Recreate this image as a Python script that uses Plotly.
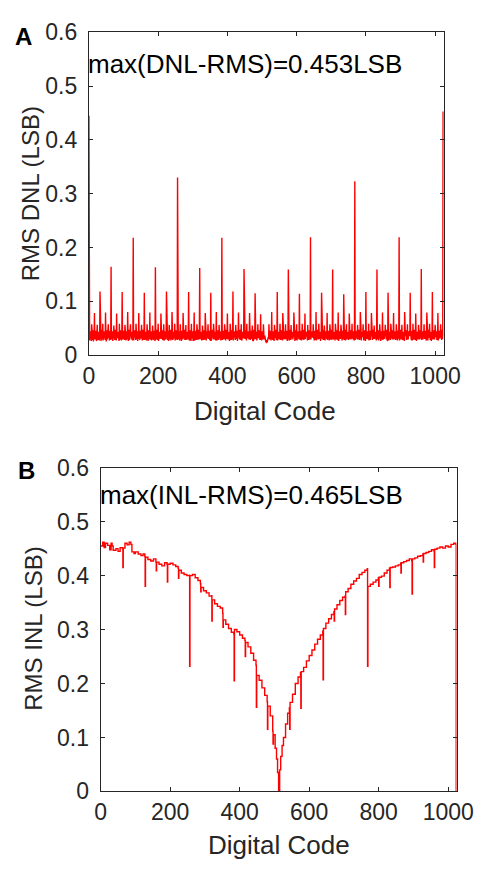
import plotly.graph_objects as go

# ---------------- Panel A: RMS DNL (values in 1/1000 LSB), codes 0..1023, rows of 8 codes
dnl_milli = [
445,31,27,38,44,29,35,26, 57,33,40,28,46,25,37,31, 78,29,36,41,45,30,26,39, 56,35,28,33,43,38,27,32,
118,30,39,26,47,34,29,37, 58,27,33,40,44,31,36,28, 79,38,25,34,46,29,41,30, 57,32,37,27,45,36,28,35,
164,29,34,39,44,26,33,40, 55,36,30,28,47,38,31,27, 77,31,40,35,43,29,37,26, 58,28,33,38,46,32,27,36,
117,37,29,31,45,40,34,28, 56,30,38,27,44,33,29,39, 80,34,26,36,47,28,38,31, 57,39,31,29,43,35,27,34,
218,27,36,40,46,30,33,28, 58,33,29,37,44,26,39,32, 78,30,38,28,45,36,31,35, 56,36,27,34,47,29,40,30,
116,28,35,39,43,32,27,37, 57,40,31,26,46,38,33,29, 79,29,37,33,44,27,36,39, 55,34,28,38,45,31,30,26,
163,37,32,29,47,35,28,40, 58,26,39,34,43,30,37,31, 77,33,30,41,46,28,34,27, 57,38,27,31,44,36,29,35,
118,31,36,28,45,39,26,33, 56,29,33,37,47,27,38,30, 80,35,28,30,43,34,31,39, 58,27,40,36,46,29,35,28,
330,34,29,38,44,31,27,36, 57,30,37,26,45,40,33,29, 78,39,31,34,47,28,36,32, 56,28,35,40,43,33,29,37,
117,36,27,29,46,38,31,26, 58,31,38,33,44,26,39,34, 79,27,30,37,45,35,28,31, 57,37,34,28,47,30,36,40,
162,29,39,31,43,37,27,33, 55,35,28,36,46,29,40,30, 78,32,37,27,44,34,31,38, 57,38,30,39,45,28,35,26,
116,26,33,35,47,31,38,29, 58,34,40,29,43,36,27,37, 80,30,27,38,46,33,32,28, 56,39,35,31,44,27,37,34,
218,28,31,36,45,40,29,33, 57,36,38,27,47,30,34,39, 77,31,29,40,43,35,26,30, 58,37,33,28,46,29,39,36,
118,27,36,34,44,38,31,28, 56,40,30,37,45,26,35,33, 79,33,39,29,47,32,28,38, 57,29,27,35,43,37,40,31,
160,35,34,30,46,28,33,27, 58,31,37,39,44,36,29,34, 78,38,28,33,45,30,37,40, 55,27,35,26,47,39,31,29,
115,36,30,38,43,27,34,32, 57,32,39,31,46,35,28,37, 76,28,31,27,44,30,33,29, 57,34,29,32,36,27,25,24,
28,22,26,24,31,27,33,30, 57,36,29,38,45,31,27,35, 80,30,37,28,44,39,33,26, 56,39,32,35,47,28,36,31,
117,27,35,40,43,33,29,38, 58,34,28,31,46,37,40,27, 78,37,39,29,44,30,32,36, 57,29,33,37,45,26,35,39,
159,35,27,30,47,38,31,28, 56,31,40,36,43,29,37,33, 79,38,30,26,46,35,28,40, 57,27,34,39,44,31,36,29,
114,33,37,28,45,40,27,35, 58,40,29,32,47,28,33,37, 77,30,36,38,43,34,39,27, 56,36,28,31,46,29,30,34,
219,29,39,35,44,37,32,40, 57,34,31,27,45,30,38,28, 80,27,37,40,47,33,29,36, 58,39,30,34,43,26,35,31,
116,31,35,29,46,39,28,37, 55,37,27,38,44,32,40,30, 78,28,33,31,45,36,27,34, 57,35,40,28,47,29,37,39,
159,30,29,37,43,35,31,27, 58,38,34,30,46,28,39,33, 79,26,31,39,44,37,30,36, 56,33,38,27,45,31,34,29,
113,39,28,35,47,27,36,40, 57,29,36,32,43,38,28,31, 77,36,30,40,46,29,33,35, 58,31,39,29,44,34,27,37,
323,28,33,36,45,30,39,29, 56,37,29,31,47,36,28,34, 80,30,40,27,43,33,37,38, 57,35,27,38,46,29,31,26,
117,32,36,30,44,40,34,29, 58,27,31,39,45,28,37,35, 78,39,34,28,47,31,30,36, 55,30,37,33,43,35,27,40,
159,36,29,40,46,27,33,31, 57,33,38,26,44,37,29,34, 79,28,31,35,45,30,39,37, 56,37,35,29,47,33,26,30,
116,31,27,38,43,36,40,28, 58,40,33,31,46,29,35,39, 78,29,37,34,44,38,28,32, 57,35,30,27,45,31,36,33,
219,27,39,36,47,34,29,38, 56,34,28,30,43,39,37,26, 80,38,35,39,46,28,31,33, 57,30,29,33,44,36,40,35,
116,36,37,28,45,27,32,30, 58,29,31,40,47,35,28,37, 77,39,26,35,43,30,38,29, 56,32,38,29,46,37,33,31,
160,28,34,37,44,29,39,36, 57,37,30,33,45,40,27,30, 79,31,39,27,47,32,35,38, 58,35,28,38,43,26,37,29,
117,30,36,31,46,39,29,34, 56,38,33,40,44,28,36,30, 78,27,29,34,45,37,31,39, 57,34,37,28,47,30,36,453,
]
dnl_codes = list(range(len(dnl_milli)))
dnl_vals = [v / 1000 for v in dnl_milli]

# ---------------- Panel B: RMS INL (read points, 1/1000 LSB)
inl_codes = [
0, 6, 10, 14, 20, 26, 30, 33, 36, 44, 50, 56, 63, 64, 65, 70, 76, 82, 87, 90, 96, 100, 108, 116, 122,
127, 128, 129, 136, 144, 152, 159, 160, 161, 168, 176, 184, 191, 192, 193, 200, 208, 216, 223, 224, 225,
232, 240, 248, 255, 256, 257, 264, 272, 280, 287, 288, 289, 296, 304, 312, 319, 320, 321, 328, 336, 344,
351, 352, 353, 360, 368, 376, 383, 384, 385, 392, 400, 408, 415, 416, 417, 424, 432, 440, 447, 448, 449,
456, 464, 472, 479, 480, 481, 488, 495, 496, 497, 502, 506, 509, 512,
515, 518, 522, 526, 532, 538, 543, 544, 545, 552, 560, 568, 575, 576, 577, 584, 592, 600, 608, 616, 624,
632, 639, 640, 641, 648, 656, 664, 671, 672, 673, 680, 688, 696, 703, 704, 705, 712, 720, 728, 736, 744,
752, 760, 767, 768, 769, 776, 784, 792, 799, 800, 801, 808, 816, 824, 831, 832, 833, 840, 848, 856, 863,
864, 865, 872, 880, 888, 895, 896, 897, 904, 912, 920, 927, 928, 929, 936, 944, 952, 959, 960, 961, 968,
976, 984, 992, 1000, 1008, 1016, 1022, 1023,
]
inl_milli = [
455, 462, 452, 460, 456, 448, 460, 455, 447, 450, 445, 452, 450, 415, 451, 460, 457, 462, 458, 444, 441, 444, 440, 437, 440,
436, 380, 434, 430, 427, 431, 425, 409, 425, 421, 418, 424, 421, 388, 421, 423, 420, 417, 414, 395, 410,
405, 402, 400, 401, 232, 400, 402, 396, 391, 385, 370, 378, 372, 368, 362, 363, 316, 355, 348, 343, 340,
330, 304, 318, 310, 302, 295, 292, 205, 300, 296, 290, 284, 280, 250, 276, 268, 256, 243, 234, 156, 215,
206, 192, 178, 166, 115, 158, 140, 112, 88, 105, 80, 60, 35, 0,
40, 65, 85, 100, 125, 145, 155, 115, 165, 180, 200, 212, 220, 154, 222, 230, 242, 252, 262, 273, 282,
290, 297, 207, 302, 312, 320, 328, 333, 316, 338, 346, 354, 360, 362, 328, 370, 376, 384, 390, 395, 402,
406, 410, 413, 232, 380, 384, 388, 392, 396, 380, 397, 399, 405, 410, 414, 378, 415, 416, 418, 420, 423,
405, 424, 426, 428, 431, 428, 366, 431, 433, 436, 437, 440, 425, 441, 443, 445, 448, 446, 415, 449, 451,
453, 451, 455, 453, 458, 460, 458, 0,
]
inl_vals = [v / 1000 for v in inl_milli]

x_ticks = [0, 200, 400, 600, 800, 1000]
y_ticks = [0, 0.1, 0.2, 0.3, 0.4, 0.5, 0.6]
y_ticktext = ["0", "0.1", "0.2", "0.3", "0.4", "0.5", "0.6"]

W, H = 491, 873
FONT = "Liberation Sans, Arial, sans-serif"
AX = "#262626"

fig = go.Figure()
fig.add_trace(go.Scatter(x=dnl_codes, y=dnl_vals, mode="lines",
                         line=dict(color="#ff0000", width=1.4), xaxis="x", yaxis="y",
                         showlegend=False, hoverinfo="skip"))
fig.add_trace(go.Scatter(x=inl_codes, y=inl_vals, mode="lines", line_shape="hv",
                         line=dict(color="#ff0000", width=1.4), xaxis="x2", yaxis="y2",
                         showlegend=False, hoverinfo="skip"))

def px_x(p):
    return p / W

def px_y(p):
    return (H - p) / H

axis_common = dict(
    showgrid=False, zeroline=False, showline=True, linecolor=AX, linewidth=1,
    mirror="ticks", ticks="inside", ticklen=4, tickcolor=AX, tickwidth=1,
    tickfont=dict(family=FONT, size=23, color=AX),
)

fig.update_layout(
    width=W, height=H, margin=dict(l=0, r=0, t=0, b=0),
    paper_bgcolor="white", plot_bgcolor="white",
    xaxis=dict(domain=[px_x(87), px_x(459.3)], range=[0, 1025], tickvals=x_ticks,
               anchor="y", ticklabelstandoff=0, **axis_common),
    yaxis=dict(domain=[px_y(352.5), px_y(20)], range=[0, 0.6], tickvals=y_ticks,
               ticktext=y_ticktext, anchor="x", ticklabelstandoff=6, **axis_common),
    xaxis2=dict(domain=[px_x(99.3), px_x(472.7)], range=[0, 1024], tickvals=x_ticks,
                anchor="y2", ticklabelstandoff=0, **axis_common),
    yaxis2=dict(domain=[px_y(802.3), px_y(468.7)], range=[0, 0.6], tickvals=y_ticks,
                ticktext=y_ticktext, anchor="x2", ticklabelstandoff=6, **axis_common),
)

def ann(text, x, y, size, xanchor="center", yanchor="middle", angle=0, bold=False, color="black"):
    fig.add_annotation(text=f"<b>{text}</b>" if bold else text,
                       x=px_x(x), y=px_y(y), xref="paper", yref="paper",
                       xanchor=xanchor, yanchor=yanchor, textangle=angle, showarrow=False,
                       font=dict(family=FONT, size=size, color=color))

ann("A", 18, 24, 24, bold=True)
ann("B", 22, 472, 24, bold=True)
ann("max(DNL-RMS)=0.453LSB", 84, 53, 26, xanchor="left")
ann("max(INL-RMS)=0.465LSB", 97, 497, 26, xanchor="left")
ann("RMS DNL (LSB)", 26, 186, 24, angle=-90, color=AX)
ann("RMS INL (LSB)", 28, 635, 24, angle=-90, color=AX)
ann("Digital Code", 272, 410, 26, color=AX)
ann("Digital Code", 286, 858, 26, color=AX)

fig.write_html("out.html")
